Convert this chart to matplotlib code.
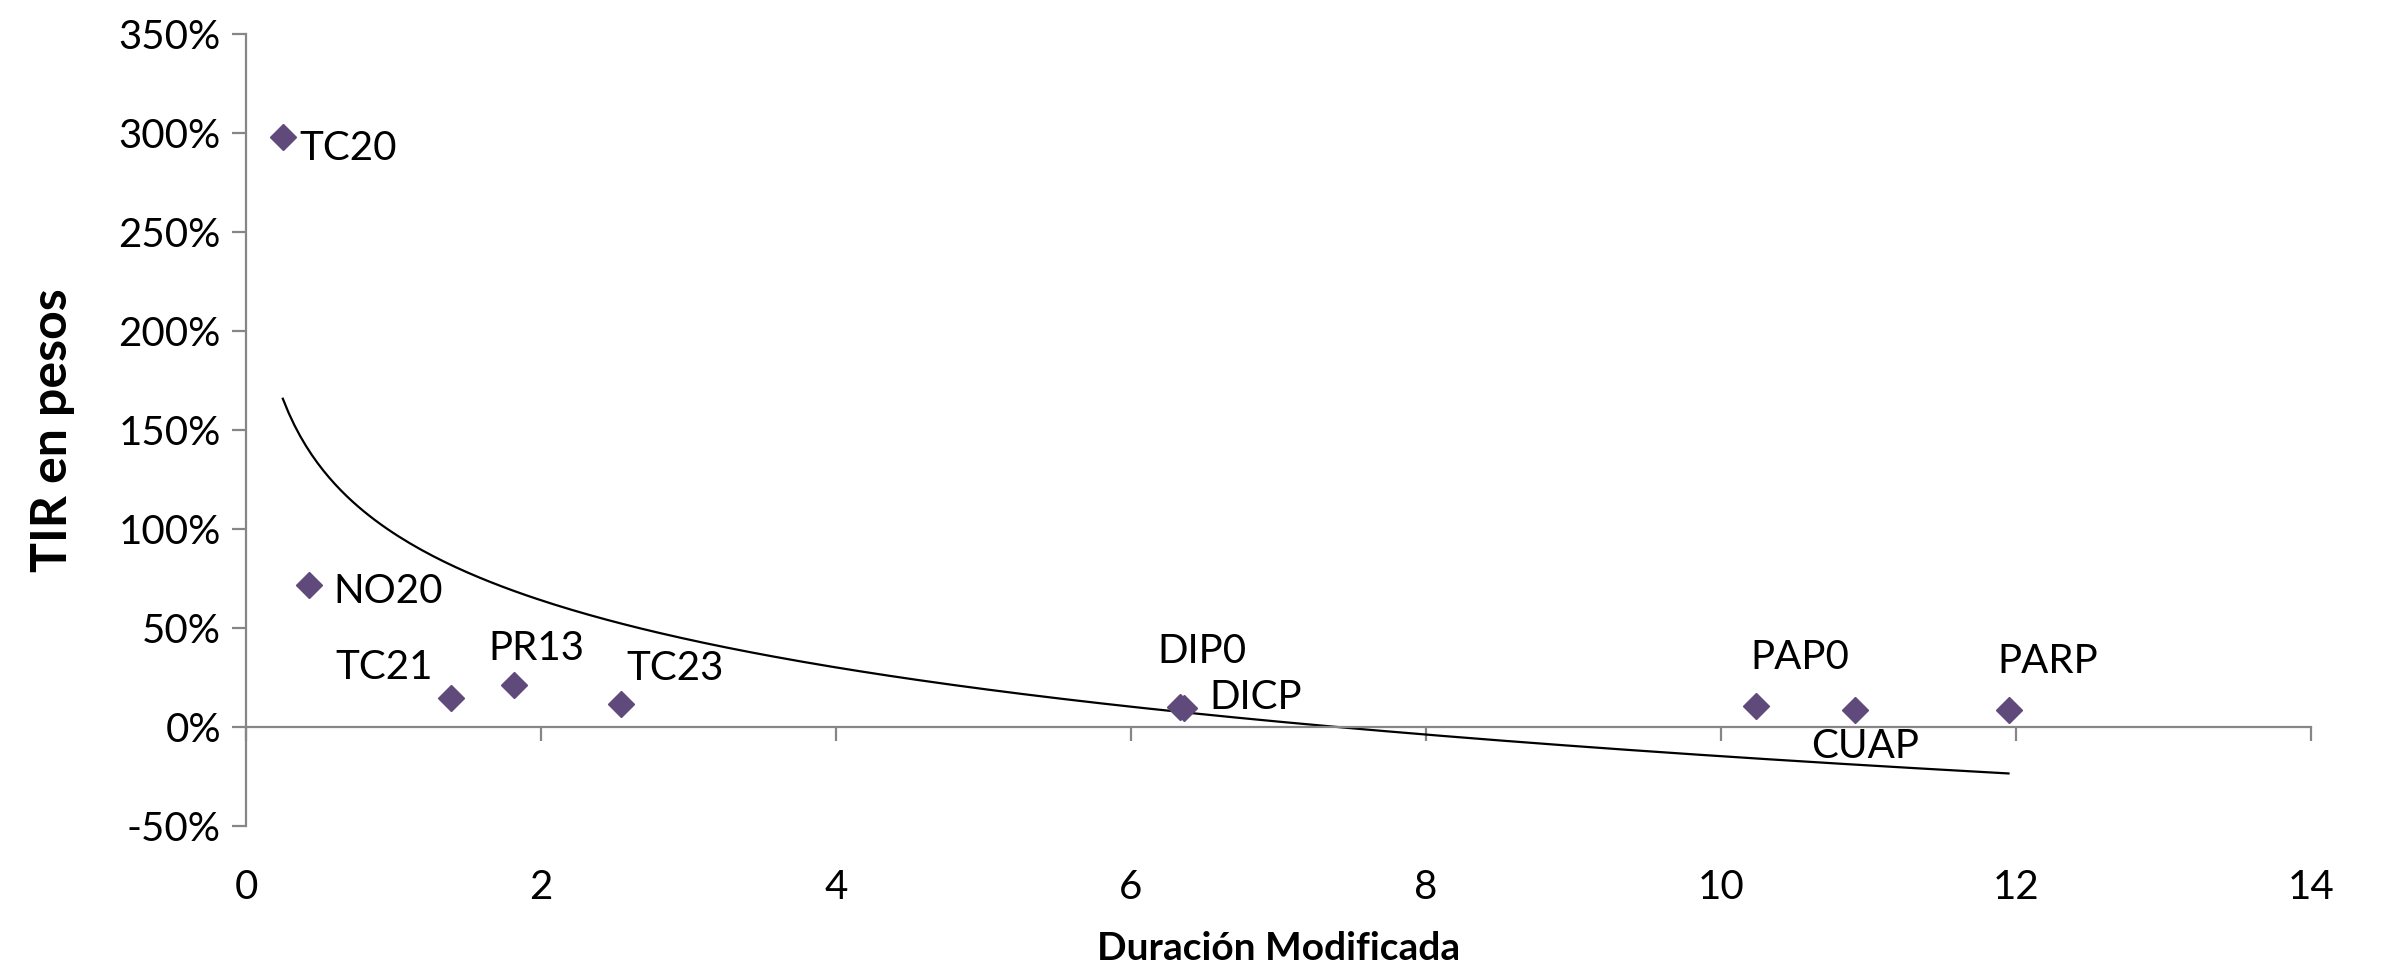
import numpy as np
import matplotlib
matplotlib.use("Agg")
import matplotlib.pyplot as plt
from matplotlib.ticker import FuncFormatter

# -----------------------------
# datos
# -----------------------------
bonos = ["TC20", "NO20", "TC21", "PR13", "TC23", "DIP0", "DICP", "PAP0", "CUAP", "PARP"]
duracion = [0.25, 0.43, 1.39, 1.82, 2.54, 6.33, 6.36, 10.24, 10.91, 11.95]
tir = [2.98, 0.72, 0.146, 0.215, 0.115, 0.10, 0.095, 0.108, 0.085, 0.085]

# desplazamiento de cada etiqueta (puntos), alineacion horizontal
label_off = {
    "TC20": (12, -8, "left"), "NO20": (17, -5, "left"), "TC21": (-48, 22, "center"),
    "PR13": (16, 26, "center"), "TC23": (39, 26, "center"), "DIP0": (16, 40, "center"),
    "DICP": (18, 8, "left"), "PAP0": (31, 35, "center"), "CUAP": (7, -26, "center"),
    "PARP": (28, 35, "center"),
}

plt.rcParams['font.family'] = ['Lato', 'DejaVu Sans']
gris = '#868686'
violeta = '#604A7B'

fig = plt.figure(figsize=(23.88, 9.73), dpi=100)
ax = fig.add_axes([0.103, 0.151, 0.8647, 0.814])

ax.plot(duracion, tir, 'D', color=violeta, markersize=13.5, zorder=3)

# linea de tendencia logaritmica
b, a = np.polyfit(np.log(duracion), tir, 1)
xs = np.linspace(min(duracion), max(duracion), 300)
ax.plot(xs, a + b * np.log(xs), color='black', lw=1.6, zorder=2)

for name, x, y in zip(bonos, duracion, tir):
    dx, dy, ha = label_off[name]
    ax.annotate(name, (x, y), xytext=(dx, dy), textcoords='offset points',
                ha=ha, va='center', fontsize=29)

ax.set_xlim(0, 14)
ax.set_ylim(-0.5, 3.5)
ax.set_xticks(range(0, 15, 2))
ax.set_yticks(np.arange(-0.5, 3.51, 0.5))
ax.yaxis.set_major_formatter(FuncFormatter(lambda v, p: f"{v*100:.0f}%"))

for s in ['top', 'right']:
    ax.spines[s].set_visible(False)
ax.spines['bottom'].set_position(('data', 0))
for s in ['left', 'bottom']:
    ax.spines[s].set_color(gris)
    ax.spines[s].set_linewidth(1.6)

ax.tick_params(axis='both', colors=gris, width=1.6, length=10, labelsize=29, labelcolor='black')
ax.tick_params(axis='y', pad=8)
ax.tick_params(axis='x', pad=92)

ax.set_xlabel("Duración Modificada", fontsize=28, fontweight='bold')
ax.set_ylabel("TIR en pesos", fontsize=36, fontweight='bold')
ax.xaxis.set_label_coords(0.5, -0.133)
ax.yaxis.set_label_coords(-0.083, 0.5)

fig.savefig("out.png", dpi=100)
